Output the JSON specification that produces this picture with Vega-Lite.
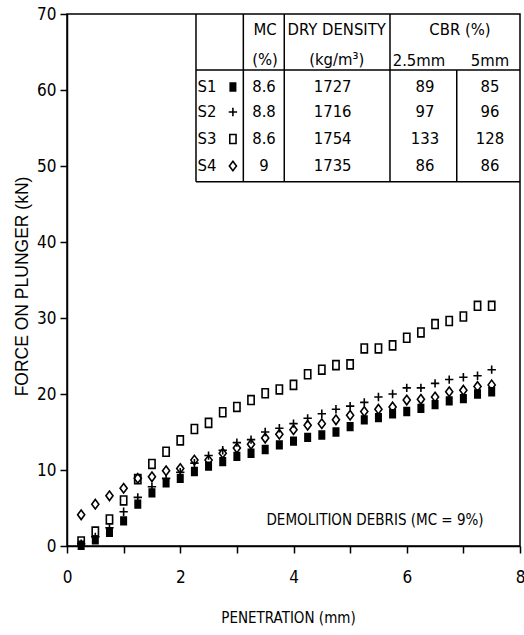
{
  "$schema": "https://vega.github.io/schema/vega-lite/v6.json",
  "width": 453,
  "height": 532,
  "autosize": {"type": "none"},
  "padding": {"left": 67, "top": 14, "right": 4, "bottom": 89},
  "background": "white",
  "config": {
    "view": {"stroke": "black", "strokeWidth": 1.5},
    "axis": {"grid": false, "domainColor": "black", "domainWidth": 1.5, "tickColor": "black", "tickWidth": 1.5, "labelColor": "black", "titleColor": "black", "labelFlush": false}
  },
  "datasets": {
    "curves": [
      {"series": "S1", "penetration": 0.25, "force": 0.1}, {"series": "S1", "penetration": 0.5, "force": 0.8}, {"series": "S1", "penetration": 0.75, "force": 1.8}, {"series": "S1", "penetration": 1.0, "force": 3.3}, {"series": "S1", "penetration": 1.25, "force": 5.5}, {"series": "S1", "penetration": 1.5, "force": 7.0}, {"series": "S1", "penetration": 1.75, "force": 8.3}, {"series": "S1", "penetration": 2.0, "force": 8.9}, {"series": "S1", "penetration": 2.25, "force": 9.8}, {"series": "S1", "penetration": 2.5, "force": 10.5}, {"series": "S1", "penetration": 2.75, "force": 11.1}, {"series": "S1", "penetration": 3.0, "force": 11.8}, {"series": "S1", "penetration": 3.25, "force": 12.2}, {"series": "S1", "penetration": 3.5, "force": 12.7}, {"series": "S1", "penetration": 3.75, "force": 13.3}, {"series": "S1", "penetration": 4.0, "force": 13.8}, {"series": "S1", "penetration": 4.25, "force": 14.3}, {"series": "S1", "penetration": 4.5, "force": 14.6}, {"series": "S1", "penetration": 4.75, "force": 15.0}, {"series": "S1", "penetration": 5.0, "force": 15.7}, {"series": "S1", "penetration": 5.25, "force": 16.6}, {"series": "S1", "penetration": 5.5, "force": 16.9}, {"series": "S1", "penetration": 5.75, "force": 17.4}, {"series": "S1", "penetration": 6.0, "force": 17.7}, {"series": "S1", "penetration": 6.25, "force": 18.1}, {"series": "S1", "penetration": 6.5, "force": 18.6}, {"series": "S1", "penetration": 6.75, "force": 19.1}, {"series": "S1", "penetration": 7.0, "force": 19.4}, {"series": "S1", "penetration": 7.25, "force": 20.0}, {"series": "S1", "penetration": 7.5, "force": 20.3},
      {"series": "S2", "penetration": 0.25, "force": 0.3}, {"series": "S2", "penetration": 0.5, "force": 1.2}, {"series": "S2", "penetration": 0.75, "force": 2.4}, {"series": "S2", "penetration": 1.0, "force": 4.5}, {"series": "S2", "penetration": 1.25, "force": 6.4}, {"series": "S2", "penetration": 1.5, "force": 7.8}, {"series": "S2", "penetration": 1.75, "force": 8.9}, {"series": "S2", "penetration": 2.0, "force": 9.7}, {"series": "S2", "penetration": 2.25, "force": 10.9}, {"series": "S2", "penetration": 2.5, "force": 11.9}, {"series": "S2", "penetration": 2.75, "force": 12.6}, {"series": "S2", "penetration": 3.0, "force": 13.6}, {"series": "S2", "penetration": 3.25, "force": 14.0}, {"series": "S2", "penetration": 3.5, "force": 15.0}, {"series": "S2", "penetration": 3.75, "force": 15.5}, {"series": "S2", "penetration": 4.0, "force": 16.1}, {"series": "S2", "penetration": 4.25, "force": 16.8}, {"series": "S2", "penetration": 4.5, "force": 17.4}, {"series": "S2", "penetration": 4.75, "force": 18.0}, {"series": "S2", "penetration": 5.0, "force": 18.4}, {"series": "S2", "penetration": 5.25, "force": 18.9}, {"series": "S2", "penetration": 5.5, "force": 19.6}, {"series": "S2", "penetration": 5.75, "force": 20.0}, {"series": "S2", "penetration": 6.0, "force": 20.8}, {"series": "S2", "penetration": 6.25, "force": 20.8}, {"series": "S2", "penetration": 6.5, "force": 21.4}, {"series": "S2", "penetration": 6.75, "force": 21.9}, {"series": "S2", "penetration": 7.0, "force": 22.2}, {"series": "S2", "penetration": 7.25, "force": 22.4}, {"series": "S2", "penetration": 7.5, "force": 23.2},
      {"series": "S3", "penetration": 0.25, "force": 0.6}, {"series": "S3", "penetration": 0.5, "force": 1.9}, {"series": "S3", "penetration": 0.75, "force": 3.5}, {"series": "S3", "penetration": 1.0, "force": 6.0}, {"series": "S3", "penetration": 1.25, "force": 8.8}, {"series": "S3", "penetration": 1.5, "force": 10.8}, {"series": "S3", "penetration": 1.75, "force": 12.4}, {"series": "S3", "penetration": 2.0, "force": 13.9}, {"series": "S3", "penetration": 2.25, "force": 15.4}, {"series": "S3", "penetration": 2.5, "force": 16.2}, {"series": "S3", "penetration": 2.75, "force": 17.6}, {"series": "S3", "penetration": 3.0, "force": 18.3}, {"series": "S3", "penetration": 3.25, "force": 19.2}, {"series": "S3", "penetration": 3.5, "force": 20.1}, {"series": "S3", "penetration": 3.75, "force": 20.6}, {"series": "S3", "penetration": 4.0, "force": 21.2}, {"series": "S3", "penetration": 4.25, "force": 22.6}, {"series": "S3", "penetration": 4.5, "force": 23.2}, {"series": "S3", "penetration": 4.75, "force": 23.8}, {"series": "S3", "penetration": 5.0, "force": 23.9}, {"series": "S3", "penetration": 5.25, "force": 26.0}, {"series": "S3", "penetration": 5.5, "force": 26.0}, {"series": "S3", "penetration": 5.75, "force": 26.4}, {"series": "S3", "penetration": 6.0, "force": 27.4}, {"series": "S3", "penetration": 6.25, "force": 28.1}, {"series": "S3", "penetration": 6.5, "force": 29.2}, {"series": "S3", "penetration": 6.75, "force": 29.6}, {"series": "S3", "penetration": 7.0, "force": 30.2}, {"series": "S3", "penetration": 7.25, "force": 31.6}, {"series": "S3", "penetration": 7.5, "force": 31.6},
      {"series": "S4", "penetration": 0.25, "force": 4.1}, {"series": "S4", "penetration": 0.5, "force": 5.5}, {"series": "S4", "penetration": 0.75, "force": 6.6}, {"series": "S4", "penetration": 1.0, "force": 7.6}, {"series": "S4", "penetration": 1.25, "force": 8.9}, {"series": "S4", "penetration": 1.5, "force": 9.1}, {"series": "S4", "penetration": 1.75, "force": 9.9}, {"series": "S4", "penetration": 2.0, "force": 10.2}, {"series": "S4", "penetration": 2.25, "force": 11.3}, {"series": "S4", "penetration": 2.5, "force": 11.3}, {"series": "S4", "penetration": 2.75, "force": 12.2}, {"series": "S4", "penetration": 3.0, "force": 12.9}, {"series": "S4", "penetration": 3.25, "force": 13.4}, {"series": "S4", "penetration": 3.5, "force": 14.2}, {"series": "S4", "penetration": 3.75, "force": 14.7}, {"series": "S4", "penetration": 4.0, "force": 15.3}, {"series": "S4", "penetration": 4.25, "force": 15.9}, {"series": "S4", "penetration": 4.5, "force": 16.1}, {"series": "S4", "penetration": 4.75, "force": 16.6}, {"series": "S4", "penetration": 5.0, "force": 17.2}, {"series": "S4", "penetration": 5.25, "force": 17.7}, {"series": "S4", "penetration": 5.5, "force": 18.0}, {"series": "S4", "penetration": 5.75, "force": 18.3}, {"series": "S4", "penetration": 6.0, "force": 19.2}, {"series": "S4", "penetration": 6.25, "force": 19.3}, {"series": "S4", "penetration": 6.5, "force": 19.6}, {"series": "S4", "penetration": 6.75, "force": 20.3}, {"series": "S4", "penetration": 7.0, "force": 20.5}, {"series": "S4", "penetration": 7.25, "force": 21.0}, {"series": "S4", "penetration": 7.5, "force": 21.2}
    ],
    "legendMarks": [
      {"series": "S1", "x": 2.93, "y": 60.39},
      {"series": "S2", "x": 2.93, "y": 57.11},
      {"series": "S3", "x": 2.93, "y": 53.55},
      {"series": "S4", "x": 2.93, "y": 50.0}
    ],
    "tableLines": [
      {"x": 2.278, "x2": 2.278, "y": 47.93, "y2": 70},
      {"x": 3.114, "x2": 3.114, "y": 47.93, "y2": 70},
      {"x": 3.837, "x2": 3.837, "y": 47.93, "y2": 70},
      {"x": 5.704, "x2": 5.704, "y": 47.93, "y2": 70},
      {"x": 6.883, "x2": 6.883, "y": 47.93, "y2": 62.63},
      {"x": 2.278, "x2": 8, "y": 62.63, "y2": 62.63},
      {"x": 2.278, "x2": 8, "y": 47.93, "y2": 47.93}
    ],
    "tableText": [
      {"x": 3.497, "y": 67.89, "label": "MC"},
      {"x": 3.497, "y": 64.0, "label": "(%)"},
      {"x": 4.763, "y": 67.89, "label": "DRY DENSITY"},
      {"x": 4.763, "y": 64.0, "label": "(kg/m³)"},
      {"x": 6.94, "y": 67.89, "label": "CBR (%)"},
      {"x": 6.216, "y": 63.8, "label": "2.5mm"},
      {"x": 7.47, "y": 63.8, "label": "5mm"},
      {"x": 2.472, "y": 60.39, "label": "S1"},
      {"x": 3.479, "y": 60.39, "label": "8.6"},
      {"x": 4.692, "y": 60.39, "label": "1727"},
      {"x": 6.322, "y": 60.39, "label": "89"},
      {"x": 7.47, "y": 60.39, "label": "85"},
      {"x": 2.472, "y": 57.11, "label": "S2"},
      {"x": 3.479, "y": 57.11, "label": "8.8"},
      {"x": 4.692, "y": 57.11, "label": "1716"},
      {"x": 6.322, "y": 57.11, "label": "97"},
      {"x": 7.47, "y": 57.11, "label": "96"},
      {"x": 2.472, "y": 53.55, "label": "S3"},
      {"x": 3.479, "y": 53.55, "label": "8.6"},
      {"x": 4.692, "y": 53.55, "label": "1754"},
      {"x": 6.322, "y": 53.55, "label": "133"},
      {"x": 7.47, "y": 53.55, "label": "128"},
      {"x": 2.472, "y": 50.0, "label": "S4"},
      {"x": 3.479, "y": 50.0, "label": "9"},
      {"x": 4.692, "y": 50.0, "label": "1735"},
      {"x": 6.322, "y": 50.0, "label": "86"},
      {"x": 7.47, "y": 50.0, "label": "86"}
    ],
    "notes": [
      {"x": 5.44, "y": 3.42, "label": "DEMOLITION DEBRIS (MC = 9%)"}
    ]
  },
  "layer": [
    {
      "data": {"name": "curves"},
      "mark": {"type": "point", "opacity": 1, "strokeWidth": 1.6, "stroke": "black"},
      "encoding": {
        "x": {"field": "penetration", "type": "quantitative", "scale": {"domain": [0, 8], "nice": false},
          "axis": {"title": "PENETRATION (mm)", "values": [0, 1, 2, 3, 4, 5, 6, 7, 8], "format": "d", "labelExpr": "datum.value % 2 == 0 ? datum.label : ''", "tickSize": 7, "labelPadding": 16, "labelFont": "DejaVu Sans Condensed, sans-serif", "labelFontSize": 17, "titleFont": "DejaVu Sans Condensed, sans-serif", "titleFontSize": 15, "titleFontWeight": "normal", "titleX": 221, "titleY": 71, "titleBaseline": "middle"}},
        "y": {"field": "force", "type": "quantitative", "scale": {"domain": [0, 70], "nice": false},
          "axis": {"title": "FORCE ON PLUNGER (kN)", "values": [0, 10, 20, 30, 40, 50, 60, 70], "format": "d", "tickSize": 7, "labelPadding": 4, "labelFont": "DejaVu Sans Condensed, sans-serif", "labelFontSize": 17, "titleFont": "Liberation Sans", "titleFontSize": 17.5, "titleFontWeight": "normal", "titleX": -45, "titleY": 272, "titleBaseline": "middle"}},
        "shape": {"field": "series", "type": "nominal", "legend": null, "scale": {"domain": ["S1", "S2", "S3", "S4"], "range": ["M-0.7,-1H0.7V1H-0.7Z", "M-1,0H1M0,-1V1", "M-0.7,-1H0.7V1H-0.7Z", "M0,-1L0.75,0L0,1L-0.75,0Z"]}},
        "fill": {"field": "series", "type": "nominal", "legend": null, "scale": {"domain": ["S1", "S2", "S3", "S4"], "range": ["black", "transparent", "transparent", "transparent"]}},
        "size": {"field": "series", "type": "nominal", "legend": null, "scale": {"domain": ["S1", "S2", "S3", "S4"], "range": [60, 90, 130, 100]}}
      }
    },
    {
      "data": {"name": "legendMarks"},
      "mark": {"type": "point", "opacity": 1, "strokeWidth": 1.6, "stroke": "black"},
      "encoding": {
        "x": {"field": "x", "type": "quantitative"},
        "y": {"field": "y", "type": "quantitative"},
        "shape": {"field": "series", "type": "nominal", "legend": null},
        "fill": {"field": "series", "type": "nominal", "legend": null},
        "size": {"field": "series", "type": "nominal", "legend": null}
      }
    },
    {
      "data": {"name": "tableLines"},
      "mark": {"type": "rule", "color": "black", "strokeWidth": 1.5},
      "encoding": {
        "x": {"field": "x", "type": "quantitative"},
        "x2": {"field": "x2"},
        "y": {"field": "y", "type": "quantitative"},
        "y2": {"field": "y2"}
      }
    },
    {
      "data": {"name": "tableText"},
      "mark": {"type": "text", "font": "DejaVu Sans Condensed, sans-serif", "fontSize": 16.5, "color": "black", "baseline": "middle", "align": "center"},
      "encoding": {
        "x": {"field": "x", "type": "quantitative"},
        "y": {"field": "y", "type": "quantitative"},
        "text": {"field": "label", "type": "nominal"}
      }
    },
    {
      "data": {"name": "notes"},
      "mark": {"type": "text", "font": "DejaVu Sans Condensed, sans-serif", "fontSize": 15, "color": "black", "baseline": "middle", "align": "center"},
      "encoding": {
        "x": {"field": "x", "type": "quantitative"},
        "y": {"field": "y", "type": "quantitative"},
        "text": {"field": "label", "type": "nominal"}
      }
    }
  ]
}
